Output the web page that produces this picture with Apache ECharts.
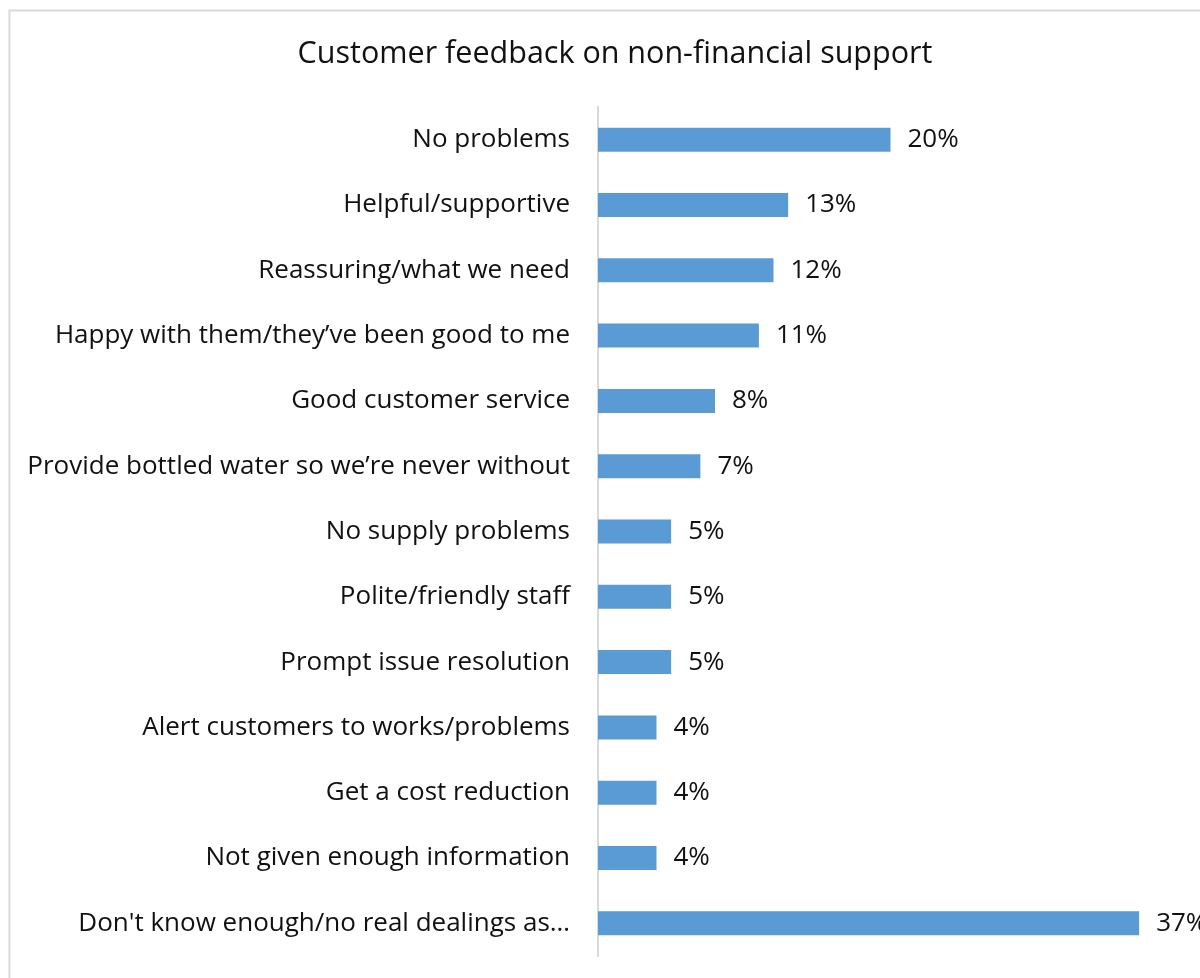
<!DOCTYPE html>
<html>
<head>
<meta charset="utf-8">
<script src="https://cdn.jsdelivr.net/npm/echarts@6/dist/echarts.min.js"></script>
<style>
  html, body { margin: 0; padding: 0; background: #fff; }
  #chart { width: 1200px; height: 978px; }
</style>
</head>
<body>
<div id="chart"></div>
<script>
// Survey responses, listed top to bottom
const categories = [
  'No problems',
  'Helpful/supportive',
  'Reassuring/what we need',
  'Happy with them/they\u2019ve been good to me',
  'Good customer service',
  'Provide bottled water so we\u2019re never without',
  'No supply problems',
  'Polite/friendly staff',
  'Prompt issue resolution',
  'Alert customers to works/problems',
  'Get a cost reduction',
  'Not given enough information',
  'Don\'t know enough/no real dealings as\u2026'
];
const shares = [20, 13, 12, 11, 8, 7, 5, 5, 5, 4, 4, 4, 37];
const chartTitle = 'Customer feedback on non-financial support';

const FONT = '"Open Sans", "Noto Sans", sans-serif';
const chart = echarts.init(document.getElementById('chart'));

chart.setOption({
  animation: false,
  backgroundColor: '#ffffff',
  title: {
    text: chartTitle,
    left: 610,
    textAlign: 'center',
    top: 34,
    textStyle: { fontFamily: FONT, fontSize: 30.5, fontWeight: 'normal', color: '#111' }
  },
  graphic: [{
    type: 'rect',
    shape: { x: 9.5, y: 10.5, width: 1300, height: 1100 },
    style: { fill: 'none', stroke: '#d9d9d9', lineWidth: 2 },
    silent: true,
    z: -1
  }],
  grid: { left: 598, top: 107, right: 17, bottom: 22, containLabel: false },
  xAxis: {
    type: 'value',
    min: 0,
    max: 40,
    show: false
  },
  yAxis: {
    type: 'category',
    inverse: true,
    data: categories,
    axisLine: { show: true, lineStyle: { color: '#d9d9d9', width: 2 } },
    axisTick: { show: false },
    axisLabel: {
      margin: 28,
      fontFamily: FONT,
      fontSize: 26,
      color: '#111'
    }
  },
  series: [{
    type: 'bar',
    data: shares,
    barWidth: 24,
    itemStyle: { color: '#5b9bd5' },
    label: {
      show: true,
      position: 'right',
      distance: 17,
      formatter: p => p.value + '%',
      fontFamily: FONT,
      fontSize: 26,
      color: '#111'
    }
  }]
});
</script>
</body>
</html>
